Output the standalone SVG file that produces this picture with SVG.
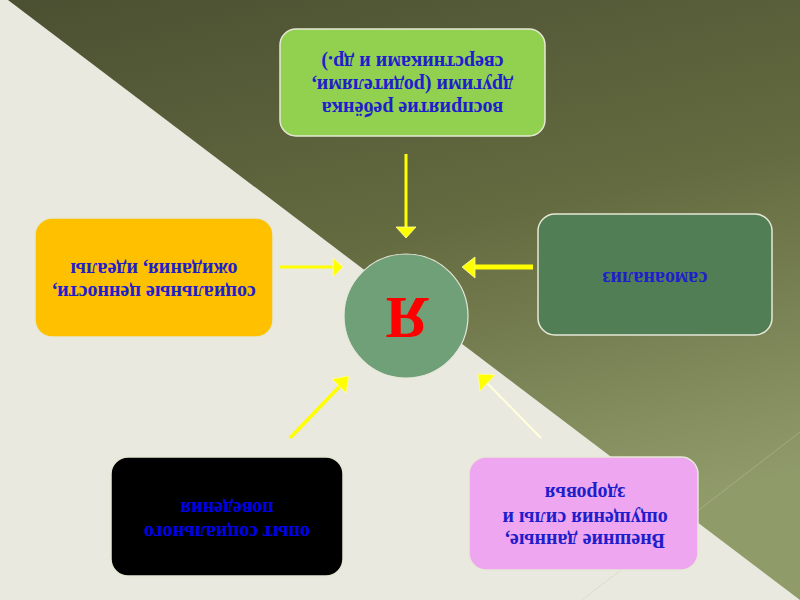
<svg xmlns="http://www.w3.org/2000/svg" width="800" height="600" viewBox="0 0 800 600">
  <defs>
    <linearGradient id="bg" x1="0" y1="0" x2="0.3" y2="1">
      <stop offset="0" stop-color="#4B5032"/>
      <stop offset="0.5" stop-color="#646B40"/>
      <stop offset="1" stop-color="#909B6A"/>
    </linearGradient>
    <style>
      .box { stroke: #E6E8D6; stroke-width: 1.5; }
      .lbl { font-family: "Liberation Serif", "Times New Roman", serif; font-weight: bold; font-size: 20px; fill: #1E1ECC; text-anchor: middle; }
      .ln { stroke: #FFFF00; stroke-width: 3; fill: none; stroke-linecap: butt; }
      .hd { fill: #FFFF00; stroke: #FFFF99; stroke-width: 0.8; stroke-linejoin: round; }
    </style>
  </defs>

  <!-- background -->
  <rect x="0" y="0" width="800" height="600" fill="#E9E9DF"/>
  <polygon points="8,0 800,0 800,600" fill="url(#bg)"/>
  <line x1="800" y1="432" x2="582" y2="600" stroke="#C8CCA8" stroke-width="1" opacity="0.4"/>

  <!-- connectors -->
  <g id="connectors">
    <line class="ln" x1="406" y1="154" x2="406" y2="229"/>
    <polygon class="hd" points="396,227 416,227 406,238"/>

    <line class="ln" x1="280" y1="267" x2="334" y2="267"/>
    <polygon class="hd" points="333,258 333,277 343,267"/>

    <line class="ln" style="stroke-width:5" x1="533" y1="267" x2="474" y2="267"/>
    <polygon class="hd" points="475,257 475,278 462,267"/>

    <line class="ln" style="stroke-width:3.5" x1="290" y1="438" x2="341" y2="385"/>
    <polygon class="hd" points="349,376 332,379 346,393"/>

    <line class="ln" style="stroke:#FFFFDC;stroke-width:2" x1="541" y1="438" x2="486" y2="382"/>
    <polygon class="hd" points="478,374 495,375 480,391"/>
  </g>

  <!-- top node -->
  <g id="node-perception">
    <rect class="box" x="280" y="29" width="265" height="107" rx="16" fill="#92D050"/>
    <g transform="rotate(180 412.5 82.5)">
      <text class="lbl" x="412.5" y="63.5">восприятие ребёнка</text>
      <text class="lbl" x="412.5" y="86.5">другими (родителями,</text>
      <text class="lbl" x="412.5" y="109">сверстниками и др.)</text>
    </g>
  </g>

  <!-- left node -->
  <g id="node-values">
    <rect class="box" x="35" y="218" width="238" height="119" rx="17" fill="#FFC000"/>
    <g transform="rotate(180 154 277.5)">
      <text class="lbl" x="154" y="269.5">социальные ценности,</text>
      <text class="lbl" x="154" y="292.5">ожидания, идеалы</text>
    </g>
  </g>

  <!-- right node -->
  <g id="node-selfanalysis">
    <rect class="box" x="538" y="214" width="234" height="121" rx="17" fill="#517E55"/>
    <g transform="rotate(180 655 274.5)">
      <text class="lbl" x="655" y="277">самоанализ</text>
    </g>
  </g>

  <!-- bottom-left node -->
  <g id="node-experience">
    <rect class="box" x="111" y="457" width="232" height="119" rx="17" fill="#000000"/>
    <g transform="rotate(180 227 516.5)">
      <text class="lbl" style="fill:#0000E6" x="227" y="507">опыт социального</text>
      <text class="lbl" style="fill:#0000E6" x="227" y="531.5">поведения</text>
    </g>
  </g>

  <!-- bottom-right node -->
  <g id="node-external">
    <rect class="box" x="469" y="457" width="229" height="113" rx="17" fill="#EEA6F0"/>
    <g transform="rotate(180 583.5 513.5)">
      <text class="lbl" x="582" y="493.5">Внешние данные,</text>
      <text class="lbl" x="582" y="515.5">ощущения силы и</text>
      <text class="lbl" x="582" y="540.5">здоровья</text>
    </g>
  </g>

  <!-- center node -->
  <g id="node-self">
    <circle cx="406" cy="316" r="62" fill="#6FA078" stroke="#E6E8D6" stroke-width="1.2"/>
    <text transform="rotate(180 406 316)" x="405" y="334" font-family="Liberation Serif, Times New Roman, serif" font-weight="bold" font-size="60" fill="#FF0000" text-anchor="middle">Я</text>
  </g>
</svg>
